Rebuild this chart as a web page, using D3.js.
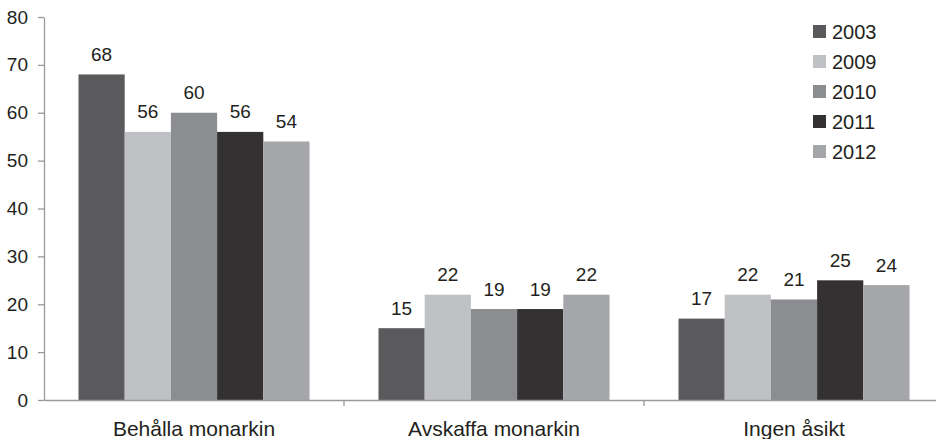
<!DOCTYPE html>
<html>
<head>
<meta charset="utf-8">
<script src="https://cdn.jsdelivr.net/npm/d3@7"></script>
<style>
  html, body { margin: 0; padding: 0; background: #fff; }
  svg { display: block; font-family: "Liberation Sans", Arial, sans-serif; }
</style>
</head>
<body>
<svg id="chart" width="936" height="439"></svg>
<script>
const categories = ["Behålla monarkin", "Avskaffa monarkin", "Ingen åsikt"];
const years = ["2003", "2009", "2010", "2011", "2012"];
const values2003 = [68, 15, 17];
const values2009 = [56, 22, 22];
const values2010 = [60, 19, 21];
const values2011 = [56, 19, 25];
const values2012 = [54, 22, 24];
const yTicks = [0, 10, 20, 30, 40, 50, 60, 70, 80];
const colors = ["#5a5a5c", "#c0c1c4", "#8c8d90", "#333132", "#a5a6a9"];

const seriesValues = [values2003, values2009, values2010, values2011, values2012];
const data = categories.map((c, ci) => ({
  category: c,
  values: years.map((y, yi) => ({ year: y, value: seriesValues[yi][ci], color: colors[yi] }))
}));

const svg = d3.select("#chart");
const axisColor = "#9a9a9a";
const textColor = "#231f20";

const x0 = 44, x1 = 944, yBottom = 400, yTop = 17;
const x = d3.scaleBand().domain(categories).range([x0, x1]).paddingInner(0).paddingOuter(0);
const groupPad = 34.5;
const xi = d3.scaleBand().domain(years).range([groupPad, x.bandwidth() - groupPad]).padding(0);
const y = d3.scaleLinear().domain([0, 80]).range([yBottom, yTop]);

// Bars
const groups = svg.append("g").selectAll("g").data(data).join("g")
  .attr("transform", d => `translate(${x(d.category)},0)`);

groups.selectAll("rect").data(d => d.values).join("rect")
  .attr("x", d => xi(d.year))
  .attr("y", d => y(d.value))
  .attr("width", xi.bandwidth())
  .attr("height", d => y(0) - y(d.value))
  .attr("fill", d => d.color);

groups.selectAll("text").data(d => d.values).join("text")
  .attr("x", d => xi(d.year) + xi.bandwidth() / 2)
  .attr("y", d => y(d.value) - 13.5)
  .attr("text-anchor", "middle")
  .attr("font-size", 19)
  .attr("fill", textColor)
  .text(d => d.value);

// Y axis
const yAxis = svg.append("g").attr("transform", `translate(${x0},0)`)
  .call(d3.axisLeft(y).tickValues(yTicks).tickSize(6).tickPadding(10).tickSizeOuter(0));
yAxis.select(".domain").attr("stroke", axisColor).attr("stroke-width", 1.3);
yAxis.selectAll(".tick line").attr("stroke", axisColor).attr("stroke-width", 1.3);
yAxis.selectAll(".tick text").attr("font-size", 19).attr("fill", textColor)
  .attr("font-family", "Liberation Sans, Arial, sans-serif");

// X axis
const xAxis = svg.append("g").attr("transform", `translate(0,${yBottom})`)
  .call(d3.axisBottom(x).tickSize(0).tickSizeOuter(0).tickPadding(21));
xAxis.select(".domain").attr("stroke", axisColor).attr("stroke-width", 1.3);
xAxis.selectAll(".tick text").attr("font-size", 21).attr("fill", textColor)
  .attr("font-family", "Liberation Sans, Arial, sans-serif");
// boundary ticks between categories
xAxis.selectAll(".boundary").data(categories.slice(1)).join("line")
  .attr("class", "boundary")
  .attr("x1", d => x(d)).attr("x2", d => x(d))
  .attr("y1", 0).attr("y2", 6)
  .attr("stroke", axisColor).attr("stroke-width", 1.3);

// Legend
const legend = svg.append("g").attr("transform", "translate(813,0)");
const li = legend.selectAll("g").data(years).join("g")
  .attr("transform", (d, i) => `translate(0,${31.5 + i * 30})`);
li.append("rect").attr("x", 0).attr("y", -6.5).attr("width", 13).attr("height", 13)
  .attr("fill", (d, i) => colors[i]);
li.append("text").attr("x", 19).attr("y", 0).attr("dy", "0.36em")
  .attr("font-size", 20).attr("fill", textColor).text(d => d);
</script>
</body>
</html>
